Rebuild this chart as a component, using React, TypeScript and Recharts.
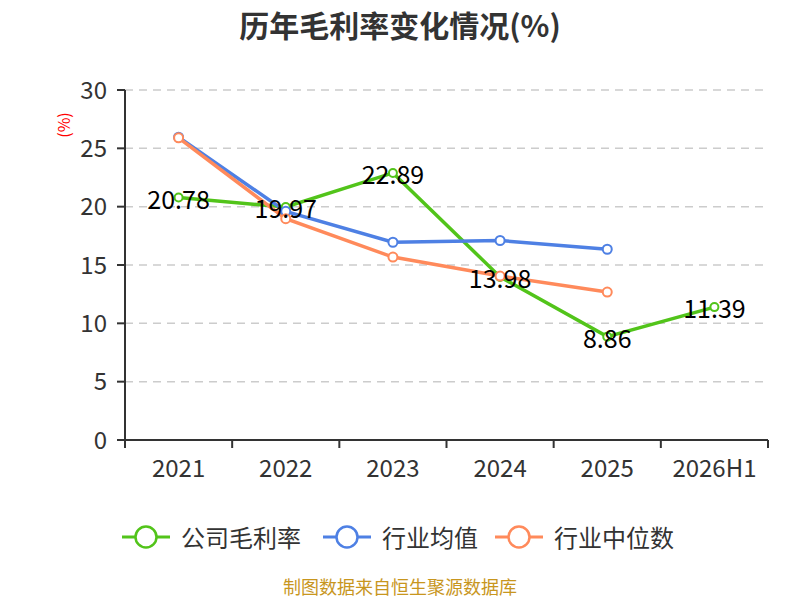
import React from 'react';
import { LineChart, Line, XAxis, YAxis, CartesianGrid, LabelList } from 'recharts';

const categories = ['2021', '2022', '2023', '2024', '2025', '2026H1'];
const companyMargin = [20.78, 19.97, 22.89, 13.98, 8.86, 11.39];
const industryAvg: (number | null)[] = [25.95, 19.6, 16.95, 17.1, 16.35, null];
const industryMedian: (number | null)[] = [25.9, 18.97, 15.68, 14.05, 12.68, null];
const yTicks = [0, 5, 10, 15, 20, 25, 30];

const seriesNames = ['公司毛利率', '行业均值', '行业中位数'];
const colors = ['#52C41A', '#4E80E4', '#FF8A5B'];

const data = categories.map((c, i) => ({
  name: c,
  company: companyMargin[i],
  avg: industryAvg[i],
  median: industryMedian[i],
}));

const W = 800;
const H = 600;
const MARGIN = { top: 90, right: 32, left: 65, bottom: 120 };
const Y_AXIS_W = 60;
const X_AXIS_H = 40;
const PLOT_LEFT = MARGIN.left + Y_AXIS_W;
const PLOT_RIGHT = W - MARGIN.right;
const PLOT_BOTTOM = H - MARGIN.bottom - X_AXIS_H;
const BAND = (PLOT_RIGHT - PLOT_LEFT) / categories.length;
const FONT = '"Noto Sans CJK SC", "Noto Sans", sans-serif';

const XTick = (props: any) => {
  const { x, payload, index } = props;
  const last = index === categories.length - 1;
  return (
    <g>
      <line x1={x - BAND / 2} x2={x - BAND / 2} y1={PLOT_BOTTOM} y2={PLOT_BOTTOM + 8} stroke="#333" strokeWidth={2} />
      {last && (
        <line x1={x + BAND / 2} x2={x + BAND / 2} y1={PLOT_BOTTOM} y2={PLOT_BOTTOM + 8} stroke="#333" strokeWidth={2} />
      )}
      <text x={x} y={PLOT_BOTTOM + 26} textAnchor="middle" dominantBaseline="central" fill="#333" fontSize={24} fontFamily={FONT}>
        {payload.value}
      </text>
    </g>
  );
};

const ValueLabel = (props: any) => {
  const { x, y, value } = props;
  if (value == null) return null;
  return (
    <text x={x} y={y} textAnchor="middle" dominantBaseline="central" fill="#000" fontSize={25} fontFamily={FONT}>
      {value}
    </text>
  );
};

const LegendIcon = ({ color }: { color: string }) => (
  <svg width={48} height={26} style={{ display: 'block' }}>
    <line x1={0} x2={48} y1={13} y2={13} stroke={color} strokeWidth={3} />
    <circle cx={24} cy={13} r={10.5} fill="#fff" stroke={color} strokeWidth={2.5} />
  </svg>
);

const legendLefts = [122, 323, 495];

export default function App() {
  return (
    <div style={{ position: 'absolute', left: 0, top: 0, width: W, height: H, background: '#fff', fontFamily: FONT, overflow: 'hidden' }}>
      <div
        style={{
          position: 'absolute',
          top: 2,
          left: 0,
          width: W,
          textAlign: 'center',
          fontSize: 30,
          fontWeight: 'bold',
          color: '#333',
          lineHeight: '44px',
        }}
      >
        历年毛利率变化情况(%)
      </div>
      <LineChart width={W} height={H} data={data} margin={MARGIN}>
        <CartesianGrid vertical={false} stroke="#ccc" strokeDasharray="8 6" strokeWidth={1.5} />
        <XAxis
          dataKey="name"
          height={X_AXIS_H}
          axisLine={{ stroke: '#333', strokeWidth: 2 }}
          tickLine={false}
          tick={<XTick />}
          interval={0}
          padding={{ left: BAND / 2, right: BAND / 2 }}
        />
        <YAxis
          width={Y_AXIS_W}
          domain={[0, 30]}
          ticks={yTicks}
          axisLine={{ stroke: '#333', strokeWidth: 2 }}
          tickLine={{ stroke: '#333', strokeWidth: 2 }}
          tickSize={8}
          tickMargin={10}
          tick={{ fill: '#333', fontSize: 24, fontFamily: FONT }}
          interval={0}
          label={{
            content: () => (
              <text
                x={63}
                y={125}
                transform="rotate(-90 63 125)"
                textAnchor="middle"
                dominantBaseline="central"
                fill="#f00"
                fontSize={16}
                fontFamily={FONT}
              >
                (%)
              </text>
            ),
          }}
        />
        <Line
          dataKey="company"
          name={seriesNames[0]}
          stroke={colors[0]}
          strokeWidth={3.5}
          dot={{ r: 4, fill: '#fff', stroke: colors[0], strokeWidth: 2 }}
          isAnimationActive={false}
        />
        <Line
          dataKey="avg"
          name={seriesNames[1]}
          stroke={colors[1]}
          strokeWidth={3.5}
          dot={{ r: 4.5, fill: '#fff', stroke: colors[1], strokeWidth: 2 }}
          isAnimationActive={false}
        />
        <Line
          dataKey="median"
          name={seriesNames[2]}
          stroke={colors[2]}
          strokeWidth={3.5}
          dot={{ r: 4.5, fill: '#fff', stroke: colors[2], strokeWidth: 2 }}
          isAnimationActive={false}
        />
        <Line
          dataKey="company"
          stroke="none"
          dot={false}
          activeDot={false}
          legendType="none"
          isAnimationActive={false}
        >
          <LabelList dataKey="company" content={<ValueLabel />} />
        </Line>
        <text x={W / 2} y={586} textAnchor="middle" dominantBaseline="central" fill="#C8961E" fontSize={18} fontFamily={FONT}>
          制图数据来自恒生聚源数据库
        </text>
      </LineChart>
      {seriesNames.map((n, i) => (
        <div
          key={n}
          style={{
            position: 'absolute',
            left: legendLefts[i],
            top: 524,
            display: 'flex',
            alignItems: 'center',
            height: 26,
          }}
        >
          <LegendIcon color={colors[i]} />
          <span style={{ marginLeft: 11, fontSize: 24, color: '#333', lineHeight: '26px', whiteSpace: 'nowrap' }}>{n}</span>
        </div>
      ))}
    </div>
  );
}
